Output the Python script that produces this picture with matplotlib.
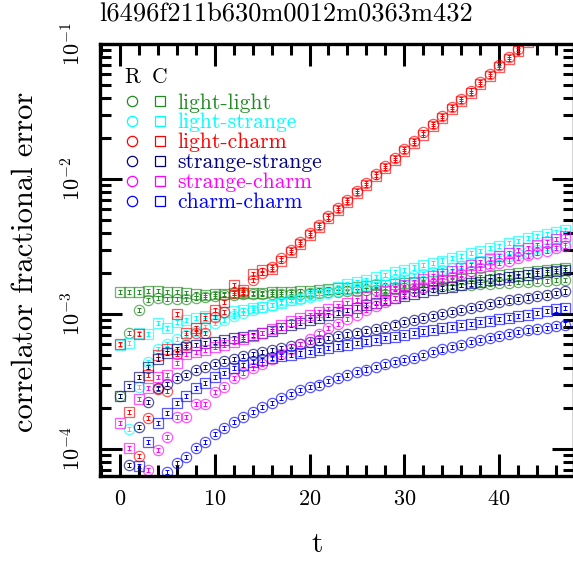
import numpy as np
import matplotlib
matplotlib.use('Agg')
import matplotlib.pyplot as plt
from matplotlib.lines import Line2D
from matplotlib.legend_handler import HandlerTuple
from matplotlib.ticker import LogLocator, NullFormatter, MultipleLocator

plt.rcParams['font.family'] = 'serif'
plt.rcParams['font.serif'] = ['cmr10']
plt.rcParams['mathtext.fontset'] = 'cm'
plt.rcParams['axes.formatter.use_mathtext'] = True

TITLE = 'l6496f211b630m0012m0363m432'
UNIT = 1e-3   # all values below are in units of 1e-3

names  = ['light-light', 'light-strange', 'light-charm',
          'strange-strange', 'strange-charm', 'charm-charm']
colors = ['#228b22', '#00ffff', '#ff0000', '#000080', '#ff00ff', '#0000ff']

# light-light
t_ll_R = np.arange(0, 48)
ll_R = [0.247, 0.723, 1.07, 1.27, 1.31, 1.29, 1.29, 1.29, 1.31, 1.34,
        1.36, 1.38, 1.38, 1.41, 1.41, 1.41, 1.41, 1.41, 1.41, 1.41,
        1.43, 1.44, 1.45, 1.46, 1.47, 1.48, 1.50, 1.51, 1.52, 1.53,
        1.55, 1.56, 1.57, 1.58, 1.60, 1.61, 1.63, 1.64, 1.66, 1.67,
        1.69, 1.70, 1.72, 1.73, 1.75, 1.76, 1.78, 1.79]
t_ll_C = np.arange(0, 48)
ll_C = [1.46, 1.46, 1.46, 1.48, 1.48, 1.46, 1.46, 1.43, 1.41, 1.38,
        1.41, 1.41, 1.43, 1.43, 1.43, 1.43, 1.46, 1.46, 1.46, 1.48,
        1.48, 1.51, 1.53, 1.55, 1.56, 1.58, 1.61, 1.63, 1.64, 1.67,
        1.70, 1.71, 1.73, 1.76, 1.79, 1.80, 1.82, 1.85, 1.88, 1.91,
        1.95, 1.98, 2.01, 2.05, 2.08, 2.12, 2.16, 2.19]

# light-strange
t_ls_R = np.arange(1, 48)
ls_R = [0.141, 0.288, 0.441, 0.550, 0.600, 0.653, 0.699, 0.748, 0.801,
        0.858, 0.903, 0.966, 1.017, 1.071, 1.127, 1.166, 1.227, 1.270, 1.302,
        1.336, 1.38, 1.43, 1.48, 1.53, 1.57, 1.63, 1.68, 1.74, 1.79,
        1.85, 1.91, 1.98, 2.05, 2.12, 2.19, 2.27, 2.35, 2.43, 2.51,
        2.60, 2.69, 2.78, 2.88, 2.98, 3.08, 3.21, 3.36]
t_ls_C = np.arange(0, 48)
ls_C = [0.589, 0.610, 0.723, 0.711, 0.858, 0.788, 0.872, 0.903, 0.934, 0.966,
        1.00, 1.035, 1.053, 1.071, 1.108, 1.127, 1.166, 1.206, 1.270, 1.325,
        1.382, 1.443, 1.506, 1.585, 1.654, 1.726, 1.80, 1.88, 1.96, 2.047,
        2.118, 2.21, 2.31, 2.39, 2.49, 2.60, 2.71, 2.83, 2.95, 3.08,
        3.21, 3.36, 3.50, 3.65, 3.78, 3.91, 4.05, 4.19]

# light-charm
t_lc_R = np.arange(2, 44)
lc_R = [0.0887, 0.170, 0.278, 0.269, 0.506, 0.589, 0.723, 0.723,
        0.950, 1.035, 1.431, 1.455, 1.786, 2.013, 2.24, 2.58, 2.98, 3.44,
        3.97, 4.58, 5.28, 6.10, 7.03, 8.12, 9.37, 10.81, 12.47, 14.39,
        16.61, 19.16, 22.11, 25.52, 29.44, 33.98, 39.21, 45.24, 52.2, 60.2,
        69.5, 80.2, 92.6, 106.8]
t_lc_C = np.arange(0, 44)
lc_C = [0.60, 0.188, 0.711, 0.353, 0.497, 0.55, 1.00, 0.723, 0.79, 0.934,
        1.071, 1.23, 1.64, 1.51, 1.98, 2.12, 2.16, 2.49, 2.88, 3.32,
        3.84, 4.42, 5.10, 5.89, 6.79, 7.84, 9.05, 10.44, 12.05, 13.90,
        16.05, 18.51, 21.36, 24.65, 28.44, 32.82, 37.88, 43.70, 50.4, 58.2,
        67.1, 77.5, 89.5, 103.2]

# strange-strange
t_ss_R = np.arange(1, 48)
ss_R = [0.0761, 0.1455, 0.2229, 0.283, 0.303, 0.336, 0.353, 0.385, 0.405,
        0.426, 0.449, 0.464, 0.489, 0.506, 0.523, 0.541, 0.560, 0.579, 0.600,
        0.620, 0.642, 0.664, 0.687, 0.705, 0.723, 0.748, 0.774, 0.801, 0.836,
        0.872, 0.903, 0.934, 0.966, 1.00, 1.035, 1.071, 1.108, 1.146, 1.186,
        1.227, 1.259, 1.291, 1.325, 1.359, 1.394, 1.431, 1.468]
t_ss_C = np.arange(0, 48)
ss_C = [0.247, 0.293, 0.342, 0.405, 0.464, 0.514, 0.550, 0.570, 0.589, 0.605,
        0.620, 0.642, 0.664, 0.681, 0.699, 0.723, 0.748, 0.788, 0.829, 0.865,
        0.903, 0.942, 0.983, 1.026, 1.071, 1.117, 1.166, 1.206, 1.259, 1.314,
        1.359, 1.406, 1.455, 1.506, 1.545, 1.585, 1.640, 1.683, 1.726, 1.771,
        1.817, 1.864, 1.912, 1.945, 1.996, 2.030, 2.082, 2.118]

# strange-charm
t_sc_R = np.arange(3, 48)
sc_R = [0.0699, 0.0983, 0.1227, 0.1726, 0.1726, 0.2154, 0.2154,
        0.2644, 0.2879, 0.3357, 0.3656, 0.398, 0.426, 0.464, 0.506, 0.550, 0.600,
        0.653, 0.717, 0.788, 0.850, 0.918, 0.991, 1.071, 1.146, 1.227, 1.314,
        1.406, 1.493, 1.585, 1.668, 1.771, 1.88, 1.978, 2.082, 2.192, 2.287,
        2.386, 2.49, 2.60, 2.713, 2.83, 2.953, 3.08, 3.216]
t_sc_C = np.arange(0, 48)
sc_C = [0.1558, 0.1017, 0.2346, 0.283, 0.3415, 0.353, 0.4335, 0.506, 0.523, 0.541,
        0.570, 0.589, 0.620, 0.653, 0.687, 0.723, 0.774, 0.829, 0.888, 0.934,
        0.983, 1.035, 1.089, 1.146, 1.206, 1.270, 1.336, 1.406, 1.480, 1.558,
        1.640, 1.723, 1.81, 1.90, 1.995, 2.097, 2.203, 2.314, 2.43, 2.555,
        2.68, 2.816, 2.96, 3.104, 3.262, 3.426, 3.60, 3.78]

# charm-charm
t_cc_R = np.arange(5, 48)
cc_R = [0.0675, 0.0788, 0.0872, 0.1017, 0.1127,
        0.1292, 0.143, 0.1585, 0.1726, 0.188, 0.2047, 0.2192, 0.2386, 0.2555, 0.2735,
        0.2879, 0.3004, 0.319, 0.3357, 0.353, 0.3718, 0.388, 0.405, 0.4226, 0.441,
        0.456, 0.476, 0.497, 0.523, 0.546, 0.570, 0.594, 0.620, 0.642, 0.664,
        0.687, 0.711, 0.736, 0.755, 0.774, 0.794, 0.815, 0.836]
t_cc_C = np.arange(2, 48)
cc_C = [0.0748, 0.1127, 0.1558, 0.1848, 0.2192, 0.247, 0.283, 0.3083,
        0.3415, 0.3656, 0.398, 0.419, 0.441, 0.456, 0.472, 0.4845, 0.497, 0.510,
        0.523, 0.541, 0.560, 0.5746, 0.589, 0.610, 0.626, 0.642, 0.664, 0.681,
        0.699, 0.723, 0.742, 0.761, 0.781, 0.801, 0.829, 0.850, 0.872, 0.895,
        0.918, 0.942, 0.966, 0.991, 1.017, 1.053, 1.080, 1.108]

REL_ERR = 0.035   # size of the small error bars relative to the value

series_R = [(t_ll_R, ll_R), (t_ls_R, ls_R), (t_lc_R, lc_R),
            (t_ss_R, ss_R), (t_sc_R, sc_R), (t_cc_R, cc_R)]
series_C = [(t_ll_C, ll_C), (t_ls_C, ls_C), (t_lc_C, lc_C),
            (t_ss_C, ss_C), (t_sc_C, sc_C), (t_cc_C, cc_C)]

fig = plt.figure(figsize=(5.73, 5.61), dpi=100)
ax = fig.add_axes([100/573, 1 - 476/561, 474/573, 432/561])

MS = 7.4
handles = []
for i in range(len(names)):
    col = colors[i]
    for (t, v), mk in ((series_C[i], 's'), (series_R[i], 'o')):
        v = np.array(v) * UNIT
        ax.errorbar(t, v, yerr=v * REL_ERR, fmt='none', ecolor=col,
                    elinewidth=0.7, capsize=1.6, capthick=0.7)
        ax.plot(t, v, linestyle='none', marker=mk, ms=MS, mfc='none',
                mec=col, mew=0.9, alpha=0.65)
    hR = Line2D([], [], linestyle='none', marker='o', ms=MS, mfc='none', mec=col, mew=0.9)
    hC = Line2D([], [], linestyle='none', marker='s', ms=MS, mfc='none', mec=col, mew=0.9)
    handles.append((hR, hC))

ax.set_yscale('log')
ax.set_xlim(-2.1, 47.9)
ax.set_ylim(10**-4.2, 0.1)

ax.xaxis.set_major_locator(MultipleLocator(10))
ax.xaxis.set_minor_locator(MultipleLocator(2))
ax.yaxis.set_major_locator(LogLocator(base=10, subs=(1.0,)))
ax.yaxis.set_minor_locator(LogLocator(base=10, subs=np.arange(2, 10)))
ax.yaxis.set_minor_formatter(NullFormatter())

for s in ax.spines.values():
    s.set_linewidth(2.4)
ax.tick_params(which='both', direction='in', top=True, right=True, width=2.2)
ax.tick_params(which='major', length=15.5, labelsize=16)
ax.tick_params(which='minor', length=8)
ax.tick_params(axis='x', pad=10)
ax.tick_params(axis='y', pad=11.5, labelrotation=90)
for lab in ax.get_yticklabels():
    lab.set_va('center')

leg = ax.legend(handles, names, handler_map={tuple: HandlerTuple(ndivide=None, pad=0)},
                loc='upper left', bbox_to_anchor=((118 - 100) / 474, (476 - 93) / 432),
                frameon=False, fontsize=15.5, handlelength=2.6, handletextpad=0.15,
                labelspacing=0.02, borderpad=0, borderaxespad=0, numpoints=1,
                labelcolor=colors)
ax.text((132 - 100) / 474, (476 - 77) / 432, 'R', transform=ax.transAxes,
        ha='center', va='center', fontsize=15.5)
ax.text((160 - 100) / 474, (476 - 77) / 432, 'C', transform=ax.transAxes,
        ha='center', va='center', fontsize=15.5)

fig.text(286/573, 1 - 21.5/561, TITLE, ha='center', va='baseline', fontsize=19)
fig.text(317/573, 1 - 552/561, 't', ha='center', va='baseline', fontsize=21)
fig.text(33/573, 1 - 262/561, 'correlator fractional error', rotation=90,
         rotation_mode='anchor', ha='center', va='baseline', fontsize=22)

fig.savefig('out.png', dpi=100)
